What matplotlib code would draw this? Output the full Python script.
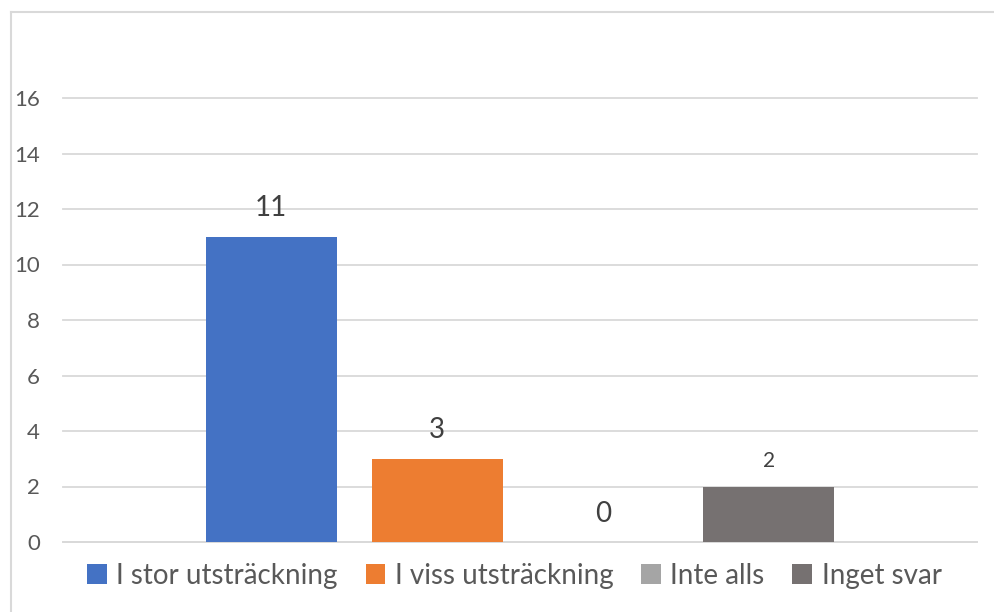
import matplotlib
matplotlib.use("Agg")
import matplotlib.pyplot as plt
from matplotlib.lines import Line2D

categories = ["I stor utsträckning", "I viss utsträckning", "Inte alls", "Inget svar"]
values = [11, 3, 0, 2]
yticks = [0, 2, 4, 6, 8, 10, 12, 14, 16]

colors = ["#4472C4", "#ED7D31", "#A5A5A5", "#767171"]
label_sizes = [20, 20, 20, 15]

plt.rcParams["font.family"] = ["Lato", "DejaVu Sans"]

fig = plt.figure(figsize=(9.95, 6.12), dpi=100)
ax = fig.add_axes([63 / 995, 70 / 612, (977 - 63) / 995, (542 - 98) / 612])

# chart border (cut off at right and bottom like the source)
fig.add_artist(Line2D([11.5 / 995, 1.0], [1 - 12 / 612] * 2, color="#D9D9D9", lw=1.5))
fig.add_artist(Line2D([11.5 / 995] * 2, [0.0, 1 - 12 / 612], color="#D9D9D9", lw=1.5))

for i, (cat, val) in enumerate(zip(categories, values)):
    bars = ax.bar(i, val, width=0.79, color=colors[i], label=cat, zorder=3)
    ax.bar_label(bars, labels=[str(val)], padding=11, fontsize=label_sizes[i],
                 color="#404040")

ax.set_xlim(-1.256, 4.256)
ax.set_ylim(0, 16)
ax.set_yticks(yticks)
ax.set_xticks([])
ax.grid(axis="y", color="#D9D9D9", lw=1.3, zorder=0)
ax.tick_params(axis="y", length=0, pad=16.5, labelsize=16, labelcolor="#595959")
for side in ["left", "right", "top"]:
    ax.spines[side].set_visible(False)
ax.spines["bottom"].set_color("#D9D9D9")
ax.spines["bottom"].set_linewidth(1.3)
for line in ax.get_ygridlines():
    line.set_clip_on(False)

fig.legend(loc="center", bbox_to_anchor=(0.517, 0.059), ncol=4, frameon=False,
           fontsize=20, labelcolor="#595959", handlelength=0.7, handleheight=0.7,
           handletextpad=0.35, columnspacing=1.0)

fig.savefig("out.png", dpi=100)
